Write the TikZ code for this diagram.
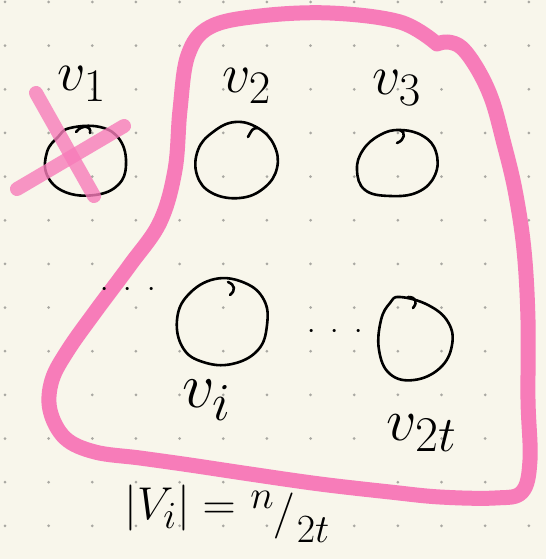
\documentclass[tikz,border=0pt]{standalone}
\begin{document}
\begin{tikzpicture}[x=1pt,y=-1pt,
  pinkline/.style={draw=pinkc,line width=15pt,line cap=round,line join=round},
  hand/.style={draw=black,line width=2.6pt,line cap=round,line join=round},
  lbl/.style={inner sep=0pt,font=\Huge,scale=#1/24.88},
  lbl/.default=52]
\definecolor{bgc}{HTML}{F8F6EB}
\definecolor{pinkc}{HTML}{F77CB9}
\definecolor{dotc}{HTML}{A9A8A2}
\fill[bgc] (0,0) rectangle (546,559);
\useasboundingbox (0,0) rectangle (546,559);
% dot grid
\foreach \i in {0,...,12} \foreach \j in {0,...,12}
  \fill[dotc] ({5+43.65*\i},{2+43.65*\j}) circle (1.5);
% circles
\draw[hand] plot[smooth cycle,tension=0.7] coordinates {(70,128) (100,127) (120,140) (126,165) (118,185) (95,195) (65,192) (47,175) (47,152) (58,137)};
\draw[hand] (76,132) .. controls (82,124) and (92,126) .. (90,133);
\draw[hand] plot[smooth cycle,tension=0.7] coordinates {(235,122) (258,128) (274,145) (277,168) (264,188) (240,198) (212,193) (197,175) (198,150) (213,132)};
\draw[hand] (248,137) .. controls (252,130) and (252,128) .. (258,128);
\draw[hand] plot[smooth cycle,tension=0.7] coordinates {(400,130) (423,136) (436,152) (435,175) (418,192) (390,196) (365,190) (357,170) (363,150) (380,135)};
\draw[hand] (397,143) .. controls (405,140) and (406,132) .. (400,130);
\draw[hand] plot[smooth cycle,tension=0.7] coordinates {(215,279) (245,283) (264,300) (267,325) (258,350) (232,364) (203,362) (183,348) (177,320) (188,295)};
\draw[hand] (230,295) .. controls (236,290) and (235,285) .. (228,282);
\draw[hand] plot[smooth cycle,tension=0.7] coordinates {(400,297) (428,305) (448,322) (452,345) (440,368) (414,380) (390,374) (379,350) (381,320) (390,303)};
\draw[hand] (413,308) .. controls (418,302) and (416,297) .. (408,297);
% pink loop
\draw[pinkline] plot[smooth,tension=0.6] coordinates {(437,44) (448,42) (462,48) (478,70) (492,100) (503,140) (515,190) (524,250) (528,320) (528,400) (530,460) (522,492) (495,498) (440,497) (390,492) (320,484) (250,474) (190,465) (140,458) (95,452) (65,438) (50,410) (52,380) (68,350) (95,312) (130,265) (160,222) (175,170) (180,110) (188,55) (210,27) (260,16) (330,13) (400,22) (437,44)};
% pink cross
\draw[pinkc,opacity=0.8,line width=14pt,line cap=round] (36,93) -- (94,196);
\draw[pinkc,opacity=0.8,line width=14pt,line cap=round] (17,189) -- (124,126);
% labels
\node[lbl=56] (l1) at (82,84) {$v_{1}$};
\node[lbl=56] (l2) at (247,86) {$v_{2}$};
\node[lbl=56] (l3) at (397,88) {$v_{3}$};
\node[lbl=64] (li) at (207,400) {$v_{i}$};
\node[lbl=60] (l2t) at (422,433) {$v_{2t}$};
\node[lbl=46] (eq) at (180,508) {$|V_{i}|=$};
\node[lbl=40] (num) at (262,500) {$n$};
\node[lbl=46] (sl) at (284,516) {$/$};
\node[lbl=40] (den) at (313,530) {$2t$};
\node[lbl=30] (d1) at (128,290) {$\cdot\;\cdot\;\cdot$};
\node[lbl=30] (d2) at (335,332) {$\cdot\;\cdot\;\cdot$};
\end{tikzpicture}
\end{document}
